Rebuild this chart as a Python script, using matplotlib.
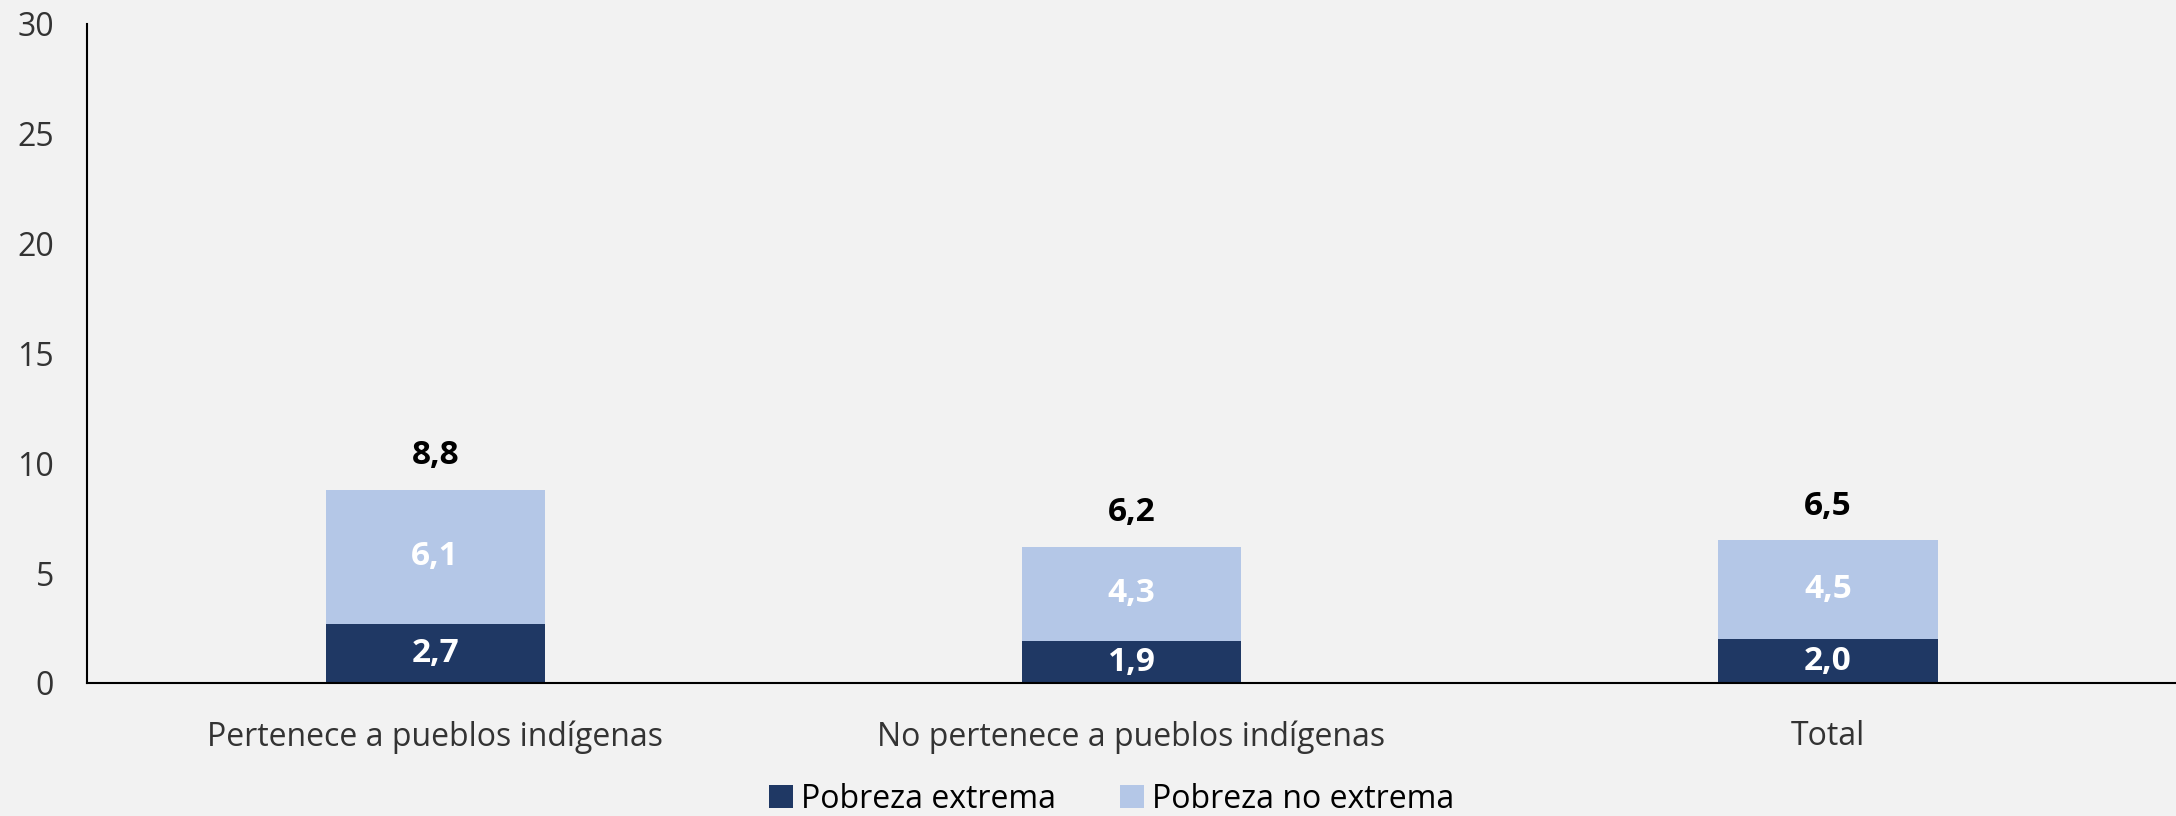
import matplotlib.pyplot as plt
import numpy as np

categories = ['Pertenece a pueblos indígenas', 'No pertenece a pueblos indígenas', 'Total']
extrema = [2.7, 1.9, 2.0]
no_extrema = [6.1, 4.3, 4.5]
totales = [8.8, 6.2, 6.5]

dark = '#1F3864'
light = '#B4C7E7'
bg = '#F2F2F2'

plt.rcParams['font.family'] = ['Open Sans', 'DejaVu Sans']

fig = plt.figure(figsize=(21.76, 8.16), dpi=100, facecolor=bg)
ax = fig.add_axes([0.04, 0.163, 0.96, 0.808])
ax.set_facecolor(bg)

x = np.arange(len(categories))
w = 0.315
b1 = ax.bar(x, extrema, w, color=dark, label='Pobreza extrema')
b2 = ax.bar(x, no_extrema, w, bottom=extrema, color=light, label='Pobreza no extrema')

for i in range(len(x)):
    ax.text(x[i], extrema[i] / 2, f'{extrema[i]:.1f}'.replace('.', ','),
            ha='center', va='center', color='white', fontsize=24, fontweight='bold')
    ax.text(x[i], extrema[i] + no_extrema[i] / 2, f'{no_extrema[i]:.1f}'.replace('.', ','),
            ha='center', va='center', color='white', fontsize=24, fontweight='bold')
    ax.text(x[i], totales[i] + 0.8, f'{totales[i]:.1f}'.replace('.', ','),
            ha='center', va='bottom', color='black', fontsize=24, fontweight='bold')

ax.set_xlim(-0.5, 2.5)
ax.set_ylim(0, 30)
ax.set_yticks(range(0, 31, 5))
ax.set_xticks(x)
ax.set_xticklabels(categories)
ax.tick_params(axis='y', length=0, pad=24, labelsize=23, labelcolor='#333333')
ax.tick_params(axis='x', length=0, pad=27, labelsize=23, labelcolor='#333333')
for s in ['top', 'right']:
    ax.spines[s].set_visible(False)
ax.spines['left'].set_linewidth(1.5)
ax.spines['bottom'].set_linewidth(1.5)

fig.legend(handles=[b1, b2], loc='lower center', bbox_to_anchor=(0.511, -0.035), ncol=2,
           frameon=False, fontsize=23, handlelength=0.75, handleheight=0.75,
           handletextpad=0.25, columnspacing=2.0)

fig.savefig('out.png', dpi=100, facecolor=bg)
